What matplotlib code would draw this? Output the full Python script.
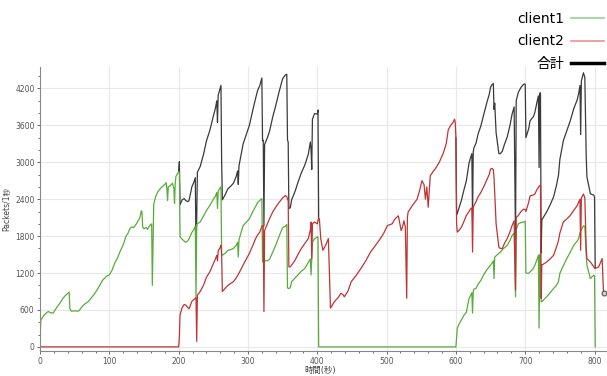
import numpy as np
import matplotlib
matplotlib.use("Agg")
from matplotlib import pyplot as plt
from matplotlib.lines import Line2D
from matplotlib.ticker import MultipleLocator

# time (s) and packets/s for each client
time = [0, 1, 3, 6, 10, 12, 15, 19, 24, 28, 33, 37, 41, 42, 43, 45, 50, 55, 57, 61,
        65, 70, 77, 82, 86, 90, 96, 100, 104, 108, 112, 115, 120, 124, 127, 129, 132, 135, 139, 142,
        144, 146, 147, 148, 150, 153, 155, 158, 161, 162, 163, 164, 167, 170, 174, 177, 180, 182, 183, 184,
        185, 188, 191, 193, 194, 195, 196, 199, 200,
        201, 202, 205, 208, 210, 213, 215, 219, 222, 224, 225, 226, 227, 231, 236, 240, 245, 250, 253, 255,
        256, 257, 260, 261, 262, 263, 267, 271, 275, 279, 283, 285, 286, 287, 288, 293, 298, 302, 307, 311,
        314, 317, 319, 320, 321, 322, 323, 324, 328, 331, 336, 340, 345, 350, 354, 356, 357, 358, 359, 361,
        363, 368, 372, 377, 382, 387, 390, 391, 392, 393, 396, 400, 401,
        402, 403, 405, 408, 412, 416, 419, 425, 430, 434, 437, 439, 444, 449, 456, 463, 470, 477, 484, 491,
        496, 501, 508, 512, 517, 521, 523, 525, 527, 529, 530, 531, 537, 544, 548, 551, 554, 556, 558, 560,
        563, 567, 570, 576, 582, 586, 589, 593, 596, 598, 599,
        600, 601, 602, 605, 608, 612, 615, 619, 621, 623, 624, 625, 626, 629, 632, 636, 640, 645, 648, 650,
        652, 654, 655, 656, 658, 662, 664, 667, 670, 674, 678, 681, 684, 686, 687, 690, 694, 698, 700,
        701, 705, 707, 712, 714, 717, 719, 720, 721, 722, 723, 724, 727, 731, 736, 741, 745, 748, 750, 755,
        760, 765, 770, 775, 777, 779, 780, 781, 784, 786, 788, 789, 794, 799, 800, 801, 806, 811, 813]

client1 = [100, 430, 470, 520, 560, 575, 555, 550, 640, 700, 790, 840, 880, 890, 620, 580, 585, 580, 600, 660,
           700, 740, 840, 920, 1000, 1080, 1150, 1170, 1250, 1370, 1450, 1540, 1660, 1800, 1850, 1910, 1950, 1940, 2000, 2060,
           2100, 2210, 2200, 1950, 1920, 1940, 1910, 1970, 2000, 1000, 1700, 2320, 2450, 2520, 2580, 2610, 2640, 2670, 2560, 2380,
           2600, 2620, 2660, 2580, 2330, 2650, 2770, 2830, 2850,
           2830, 1790, 1750, 1720, 1700, 1720, 1760, 1860, 1910, 1960, 800, 1990, 2000, 2030, 2130, 2215, 2300, 2400, 2450, 2510,
           2250, 2530, 2590, 2600, 1500, 1490, 1520, 1570, 1580, 1600, 1650, 1700, 1460, 1740, 1780, 1970, 2030, 2080, 2200, 2280,
           2350, 2380, 2400, 2410, 1380, 1390, 1390, 1400, 1400, 1420, 1550, 1650, 1800, 1940, 1960, 1990, 960, 950, 950, 960,
           1060, 1120, 1170, 1230, 1275, 1370, 1430, 1170, 1450, 1700, 1760, 1785, 1790,
           0, 0, 0, 0, 0, 0, 0, 0, 0, 0, 0, 0, 0, 0, 0, 0, 0, 0, 0, 0,
           0, 0, 0, 0, 0, 0, 0, 0, 0, 0, 0, 0, 0, 0, 0, 0, 0, 0, 0, 0,
           0, 0, 0, 0, 0, 0, 0, 0, 0, 0, 0,
           0, 150, 305, 380, 440, 520, 560, 790, 830, 880, 550, 900, 940, 950, 1020, 1080, 1170, 1260, 1300, 1330,
           1360, 1400, 1110, 1460, 1480, 1520, 1540, 1580, 1610, 1650, 1730, 1810, 1850, 815, 1900, 2000, 2020, 2030, 2040,
           1200, 1195, 1220, 1275, 1330, 1420, 1490, 305, 1500, 1510, 735, 735, 770, 815, 880, 950, 1000, 1060, 1195, 1320,
           1435, 1540, 1650, 1720, 1760, 1850, 1880, 1900, 1970, 1960, 1500, 1330, 1110, 1165, 1150, 0, np.nan, np.nan, np.nan]

client2 = [0, 0, 0, 0, 0, 0, 0, 0, 0, 0, 0, 0, 0, 0, 0, 0, 0, 0, 0, 0,
           0, 0, 0, 0, 0, 0, 0, 0, 0, 0, 0, 0, 0, 0, 0, 0, 0, 0, 0, 0,
           0, 0, 0, 0, 0, 0, 0, 0, 0, 0, 0, 0, 0, 0, 0, 0, 0, 0, 0, 0,
           0, 0, 0, 0, 0, 0, 0, 0, 0,
           180, 520, 640, 690, 680, 640, 620, 740, 770, 790, 800, 90, 840, 900, 1005, 1130, 1220, 1350, 1430, 1490,
           1400, 1560, 1620, 1650, 1500, 900, 950, 1000, 1030, 1060, 1120, 1160, 1180, 1200, 1220, 1330, 1435, 1520, 1650, 1760,
           1820, 1865, 1930, 1960, 1970, 1970, 575, 1890, 2000, 2080, 2200, 2270, 2350, 2420, 2460, 2440, 2400, 2380, 1300, 1300,
           1330, 1410, 1500, 1600, 1680, 1760, 1900, 2030, 1435, 2000, 2030, 2000, 2060,
           2080, 2080, 1760, 1570, 1650, 1760, 630, 740, 800, 870, 850, 815, 900, 1060, 1160, 1275, 1400, 1545, 1650, 1760,
           1850, 1970, 2000, 2080, 2130, 1890, 1950, 2050, 1950, 790, 2100, 2190, 2295, 2400, 2560, 2700, 2640, 2400, 2600, 2270,
           2780, 2850, 2890, 3000, 3155, 3300, 3530, 3610, 3650, 3700, 3650,
           3400, 2000, 1865, 1900, 1945, 2050, 2135, 2200, 2240, 2260, 1540, 2270, 2295, 2360, 2440, 2510, 2600, 2725, 2800, 2890,
           2900, 2880, 2750, 2500, 2000, 1620, 1600, 1600, 1680, 1760, 1870, 1970, 2050, 925, 2100, 2135, 2200, 2240, 2230,
           2200, 2350, 2455, 2470, 2485, 2560, 2590, 2610, 2620, 2620, 790, 1330, 1350, 1380, 1430, 1490, 1620, 1730, 1850, 2030,
           2080, 2135, 2220, 2295, 2350, 2400, 1570, 2420, 2485, 2420, 1600, 1435, 1380, 1300, 1280, 1275, 1300, 1435, 870]

labels = ["client1", "client2", "合計"]

plt.rcParams['font.family'] = ['DejaVu Sans', 'Noto Sans CJK JP']

t = np.array(time)
c1 = np.array(client1, dtype=float)
c2 = np.array(client2, dtype=float)
total = np.nan_to_num(c1) + c2

# where one client is idle the total lies under the other line; skip drawing it there
idle1 = np.nan_to_num(c1) == 0
idle2 = c2 == 0
hidden = np.zeros(len(t), dtype=bool)
for idle in (idle1, idle2):
    hidden[1:-1] |= idle[:-2] & idle[1:-1] & idle[2:]
total_drawn = np.where(hidden, np.nan, total)

fig = plt.figure(figsize=(6.07, 3.76), dpi=100)
ax = fig.add_axes([0.066, 0.066, 0.934, 0.756])

ax.plot(t, total_drawn, color='#3a3a3a', lw=0.9)
ax.plot(t, c1, color='#5aab3c', lw=0.9)
ax.plot(t, c2, color='#bf3434', lw=0.9)
ax.plot(t[-1], c2[-1], 'o', ms=3.5, mfc='#d0d0d0', mec='#555555', mew=0.8)

ax.set_xlim(0, 818)
ax.set_ylim(-70, 4550)
ax.set_yticks([0, 600, 1200, 1800, 2400, 3000, 3600, 4200])
ax.xaxis.set_major_locator(MultipleLocator(100))
ax.xaxis.set_minor_locator(MultipleLocator(20))
ax.yaxis.set_minor_locator(MultipleLocator(200))
ax.grid(True, color='#e8e8e8', lw=0.8)
ax.set_axisbelow(True)
for side in ['top', 'right']:
    ax.spines[side].set_visible(False)
for side in ['left', 'bottom']:
    ax.spines[side].set_color('#888888')
    ax.spines[side].set_linewidth(0.8)
ax.tick_params(which='both', labelsize=5.5, colors='#555555', length=2, width=0.6, pad=2)
ax.tick_params(which='minor', length=1.5)

ax.set_xlabel("時間(秒)", fontsize=6, color='#444444')
ax.set_ylabel("Packets/1秒", fontsize=5.5, color='#444444')
ax.xaxis.set_label_coords(0.494, -0.052)
ax.yaxis.set_label_coords(-0.05, 0.5)

handles = [Line2D([], [], color='#8fd68f', lw=1.2),
           Line2D([], [], color='#f09090', lw=1.2),
           Line2D([], [], color='#000000', lw=2.5)]
fig.legend(handles, labels, loc='upper right', bbox_to_anchor=(1.0, 0.976), markerfirst=False,
           frameon=False, fontsize=10, handlelength=2.4, handletextpad=0.5, labelspacing=0.62,
           borderaxespad=0.0, borderpad=0.2)

fig.savefig("out.png", dpi=100)
